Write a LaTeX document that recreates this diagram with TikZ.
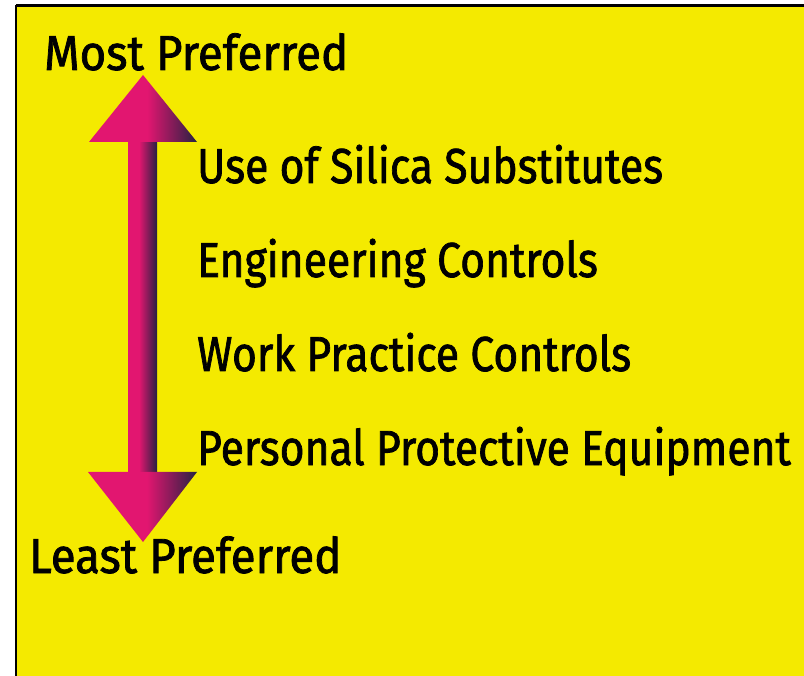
\documentclass[tikz,border=0pt]{standalone}
\usepackage{fontspec}
\newfontfamily\signfont{Fira Sans}[FakeBold=1.6]
\definecolor{pageYellow}{RGB}{244,234,0}
\definecolor{arrowPink}{RGB}{226,22,112}
\definecolor{arrowDark}{RGB}{38,34,66}
% pink to dark, the shaft darkens sooner than the heads
\pgfdeclarehorizontalshading{shaftShade}{100bp}{color(0bp)=(arrowPink); color(25bp)=(arrowPink); color(44bp)=(arrowPink); color(75bp)=(arrowDark); color(100bp)=(arrowDark)}
\pgfdeclarehorizontalshading{headShade}{100bp}{color(0bp)=(arrowPink); color(25bp)=(arrowPink); color(52bp)=(arrowPink); color(75bp)=(arrowDark); color(100bp)=(arrowDark)}
\tikzset{
  signText/.style={anchor=base west, inner sep=0pt, text=black, transform shape,
    font=\signfont\fontsize{49}{56}\selectfont},
  rankText/.style={signText, xscale=0.87},
  endText/.style={signText, xscale=0.93},
}

\begin{document}
\begin{tikzpicture}[x=1pt,y=-1pt]
	\useasboundingbox (0,0) rectangle (804,676);
	\fill[white] (0,0) rectangle (804,676);
	\fill[pageYellow] (16,5) rectangle (804,676);
	\draw[black, line width=3] (16,5.5) -- (804,5.5);
	\draw[black, line width=2] (16,5) -- (16,676);

	% double arrow: shaft and two heads
	\coordinate (topTip) at (143,75);
	\coordinate (bottomTip) at (143,542);
	\shade[shading=shaftShade] (128,142) rectangle (157,472);
	\shade[shading=headShade] (topTip) -- (197,142) -- (89,142) -- cycle;
	\shade[shading=headShade] (bottomTip) -- (197,472) -- (88,472) -- cycle;

	% end labels
	\node[endText] (most) at (44,70) {Most Preferred};
	\node[endText] (least) at (29,573) {Least Preferred};

	% controls, best first
	\node[rankText] (subst) at (197,183) {Use of Silica Substitutes};
	\node[rankText] (eng) at (197,277) {Engineering Controls};
	\node[rankText] (work) at (197,371) {Work Practice Controls};
	\node[rankText] (ppe) at (197,465) {Personal Protective Equipment};
\end{tikzpicture}
\end{document}
